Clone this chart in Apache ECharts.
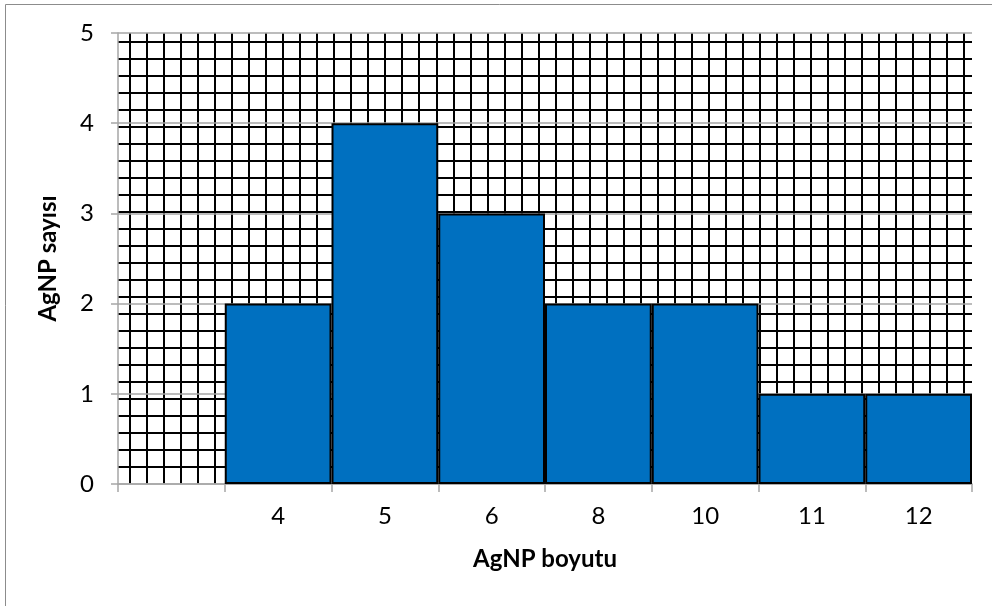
<!DOCTYPE html>
<html>
<head>
<meta charset="utf-8">
<script src="https://cdn.jsdelivr.net/npm/echarts@6/dist/echarts.min.js"></script>
<style>
  html, body { margin: 0; padding: 0; background: #fff; }
  #chart { width: 992px; height: 606px; }
</style>
</head>
<body>
<div id="chart"></div>
<script>
// Size classes (nm) and particle counts per class
const sizes = ['', '4', '5', '6', '8', '10', '11', '12'];
const counts = [null, 2, 4, 3, 2, 2, 1, 1];

// Y axis range and step
const yMin = 0;
const yMax = 5;
const yStep = 1;

// Hatched background grid: number of cells across and down
const hatchCols = 49;
const hatchRows = 25;

const FONT = 'Lato, "Open Sans", sans-serif';
const GRAY = '#a6a6a6';

const chart = echarts.init(document.getElementById('chart'), null, { renderer: 'canvas' });

const hiddenAxis = { show: false };

chart.setOption({
  animation: false,
  backgroundColor: '#ffffff',
  graphic: [{
    type: 'rect',
    silent: true,
    z: -10,
    shape: { x: 5.5, y: 4.5, width: 1100, height: 800 },
    style: { fill: 'none', stroke: '#8c8c8c', lineWidth: 1 }
  }],
  grid: [
    // main plot area
    { left: 118, right: 20, top: 33, bottom: 122 },
    // vertical hatch lines
    { left: 130, right: 28.3, top: 33, bottom: 122 },
    // horizontal hatch lines
    { left: 118, right: 20, top: 41.7, bottom: 139.3 }
  ],
  xAxis: [
    {
      gridIndex: 0,
      type: 'category',
      data: sizes,
      boundaryGap: true,
      axisLine: { show: true, lineStyle: { color: GRAY, width: 1.5 } },
      axisTick: { show: true, length: 8, lineStyle: { color: GRAY, width: 1.5 } },
      axisLabel: { color: '#000', fontFamily: FONT, fontSize: 24, margin: 20 },
      splitLine: { show: false },
      name: 'AgNP boyutu',
      nameLocation: 'middle',
      nameGap: 63,
      nameTextStyle: { color: '#000', fontFamily: FONT, fontSize: 24, fontWeight: 'bold' },
      z: 3
    },
    {
      gridIndex: 1,
      type: 'value',
      min: 0,
      max: hatchCols,
      interval: 1,
      axisLine: { show: false },
      axisTick: { show: false },
      axisLabel: { show: false },
      splitLine: { show: true, lineStyle: { color: '#000', width: 2 } },
      z: 0
    },
    Object.assign({ gridIndex: 2, type: 'value', min: 0, max: 1 }, hiddenAxis)
  ],
  yAxis: [
    {
      gridIndex: 0,
      type: 'value',
      min: yMin,
      max: yMax,
      interval: yStep,
      axisLine: { show: true, lineStyle: { color: GRAY, width: 1.5 } },
      axisTick: { show: true, length: 7, lineStyle: { color: GRAY, width: 1.5 } },
      axisLabel: { color: '#000', fontFamily: FONT, fontSize: 24, margin: 24 },
      splitLine: { show: true, lineStyle: { color: GRAY, width: 1.5 } },
      name: 'AgNP sayısı',
      nameLocation: 'middle',
      nameGap: 58,
      nameTextStyle: { color: '#000', fontFamily: FONT, fontSize: 24, fontWeight: 'bold' },
      z: 1
    },
    Object.assign({ gridIndex: 1, type: 'value', min: 0, max: 1 }, hiddenAxis),
    {
      gridIndex: 2,
      type: 'value',
      min: 0,
      max: hatchRows,
      interval: 1,
      axisLine: { show: false },
      axisTick: { show: false },
      axisLabel: { show: false },
      splitLine: { show: true, lineStyle: { color: '#000', width: 2 } },
      z: 0
    }
  ],
  series: [{
    type: 'bar',
    xAxisIndex: 0,
    yAxisIndex: 0,
    data: counts,
    barWidth: '100%',
    barCategoryGap: 0,
    itemStyle: { color: '#0070C0', borderColor: '#000', borderWidth: 2 },
    z: 5
  }]
});
</script>
</body>
</html>
